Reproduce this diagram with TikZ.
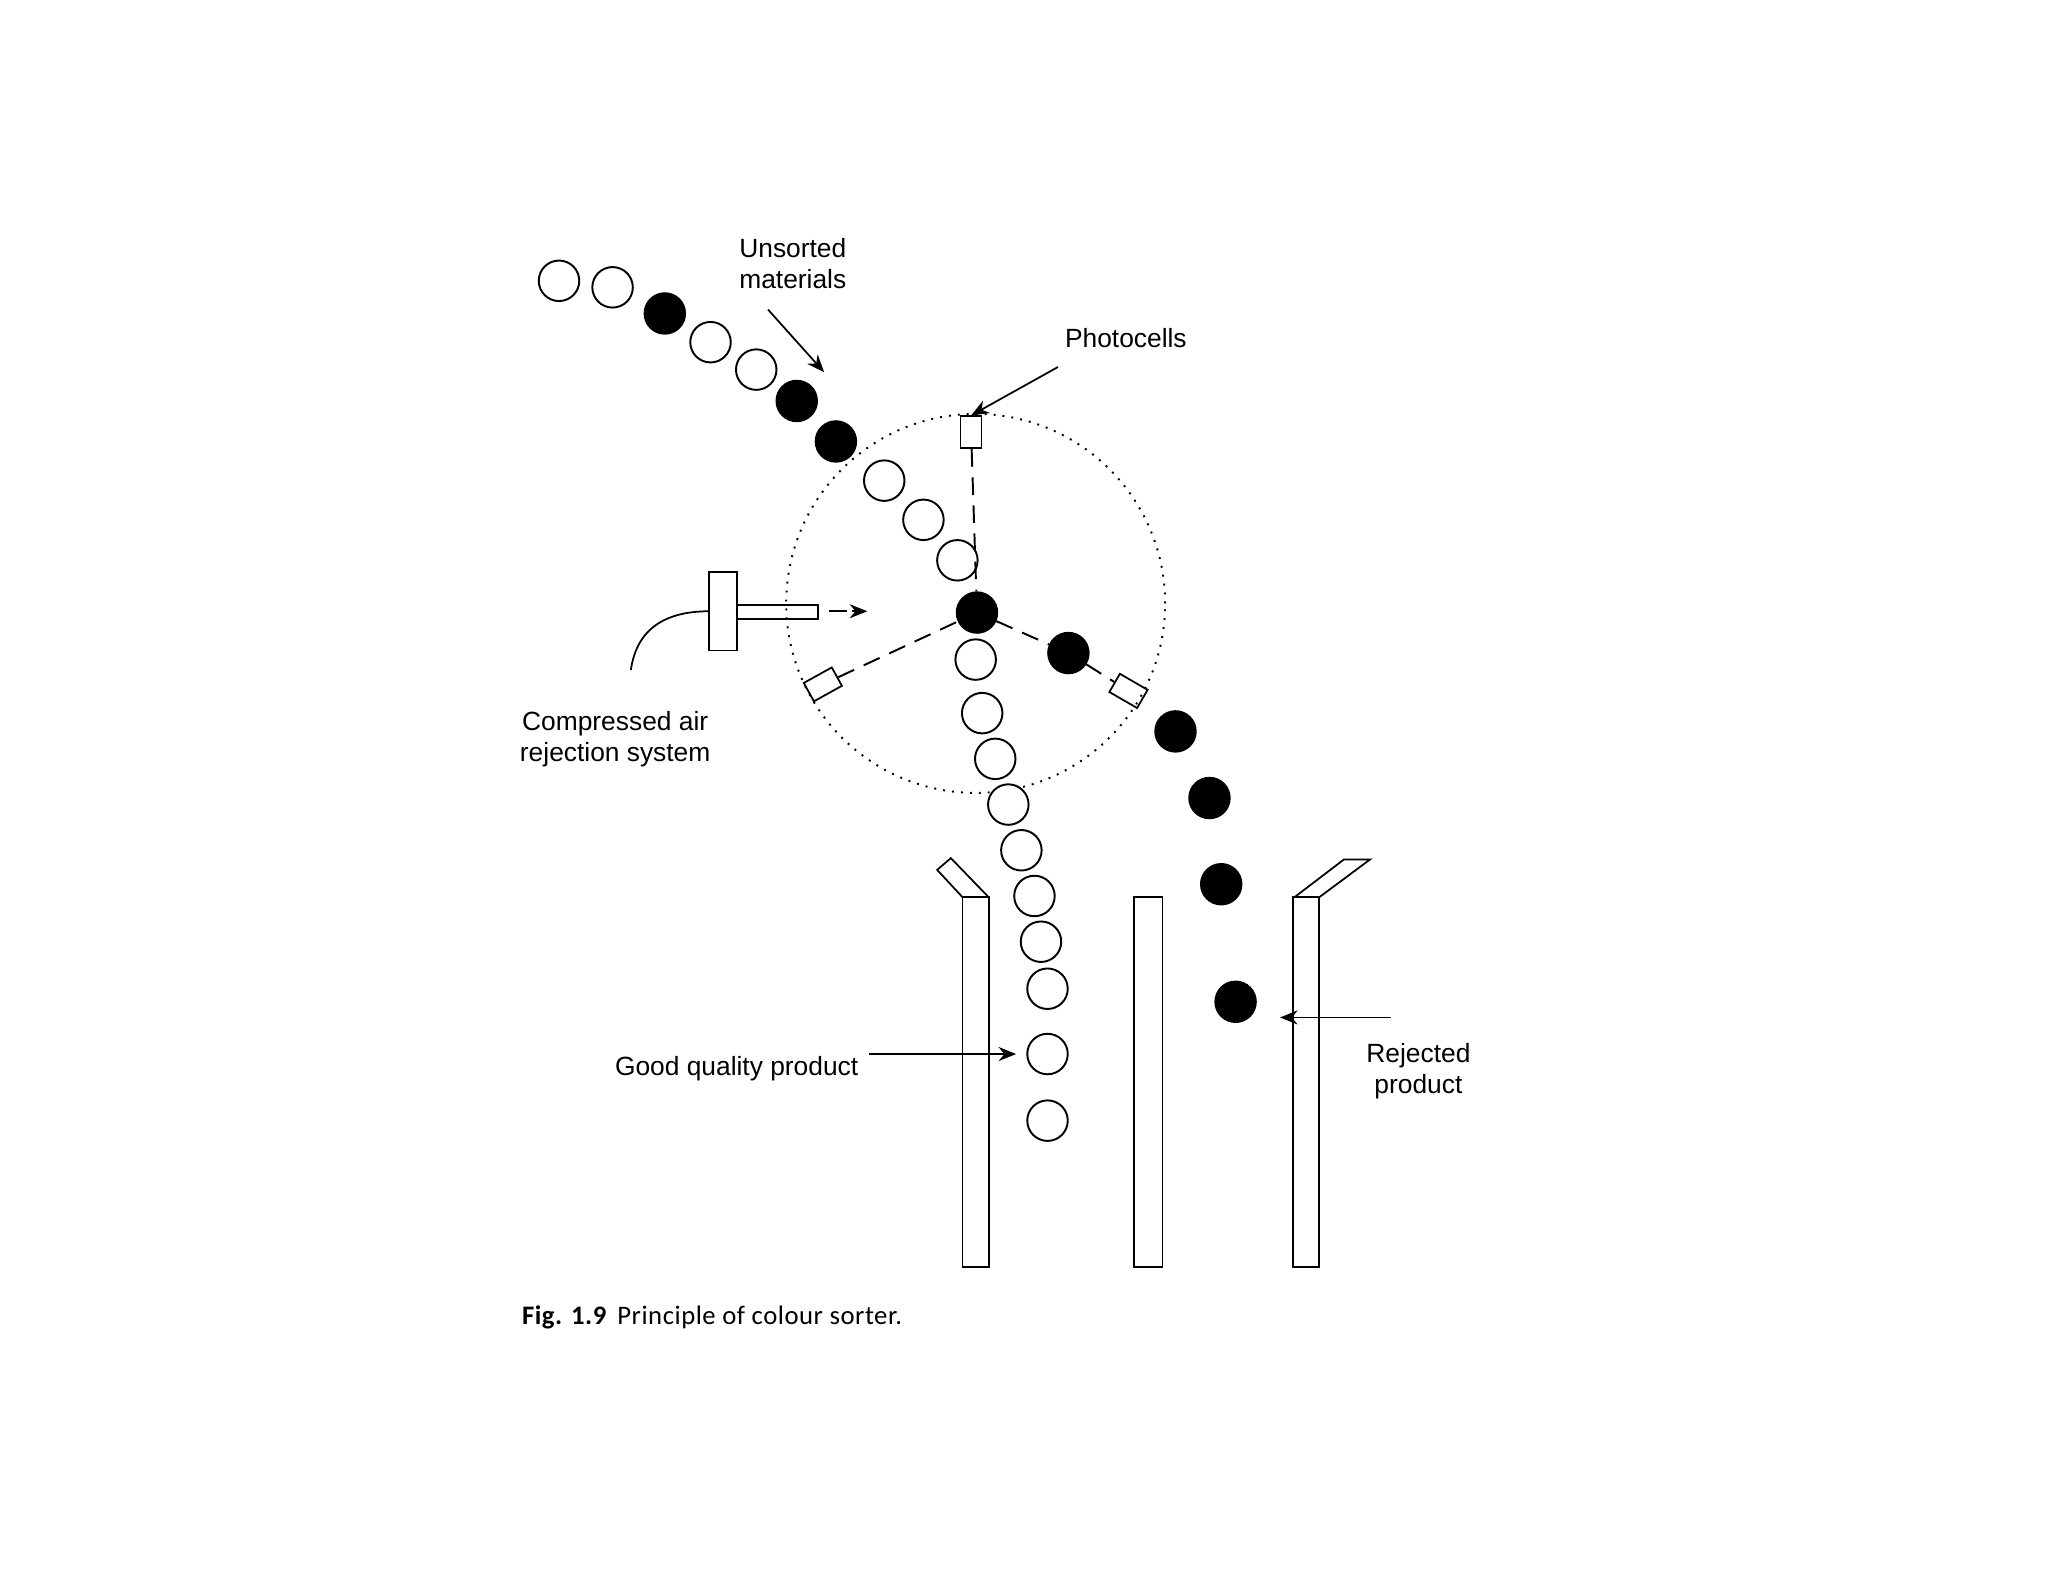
\documentclass[tikz,border=0pt]{standalone}
\usepackage{fontspec}
\setmainfont{Liberation Sans}
\newfontfamily\capfont[LetterSpace=2]{Carlito}
\usetikzlibrary{arrows.meta}
\tikzset{
  ball/.style={circle,draw,line width=0.55pt,minimum size=0.405cm,inner sep=0pt},
  goodball/.style={ball,fill=white},
  badball/.style={ball,fill=black},
  cell/.style={rectangle,draw,line width=0.5pt,minimum width=0.32cm,minimum height=0.21cm,inner sep=0pt},
  beam/.style={line width=0.55pt,dash pattern=on 5pt off 3pt},
  pointer/.style={line width=0.5pt,-{Stealth[length=5pt,width=4pt]}},
  label/.style={font=\fontsize{7.5}{8.9}\selectfont,align=center,inner sep=0pt}
}
\begin{document}
\begin{tikzpicture}[x=0.013061cm,y=-0.013061cm,line width=0.5pt]
  \useasboundingbox (0,0) rectangle (1568,1211.2);
  % inspection zone
  \node[circle,draw,dotted,line width=0.55pt,minimum size=3.79cm,inner sep=0pt] (zone) at (747,462) {};
  % photocells
  \node[cell,rotate=90] (cellT) at (743.5,331) {};
  \node[cell,rotate=29] (cellL) at (630,524) {};
  \node[cell,rotate=-30] (cellR) at (864,529) {};
  % feed
  \foreach \n/\x/\y in {1/428/215,2/469/220,3/544/262,4/579/283,5/677/368,6/707/398,7/733/429} {
      \node[goodball] (feed\n) at (\x,\y) {};
  }
  \foreach \n/\x/\y in {1/509/240,2/610/307,3/640/338} {
      \node[badball] (dark\n) at (\x,\y) {};
  }
  \node[badball] (eject) at (748,469) {};
  % good stream
  \foreach \n/\x/\y in {1/747/505,2/752/546,3/762/581,4/772/616,5/782/651,6/792/686,7/797/721,8/802/757,9/802/807,10/802/858} {
      \node[goodball] (good\n) at (\x,\y) {};
  }
  % rejected stream
  \foreach \n/\x/\y in {1/818/500,2/900/560,3/926/611,4/935/677,5/946/767} {
      \node[badball] (rej\n) at (\x,\y) {};
  }
  % light paths
  \draw[beam] (cellT) -- (eject);
  \draw[beam] (cellL) -- (eject);
  \draw[beam] (eject) -- (rej1);
  \draw[beam] (rej1) -- (cellR);
  % air nozzle
  \draw (543,438) rectangle (564,498);
  \draw (564,463) rectangle (626,474);
  \coordinate (hoseA) at (543,468);
  \coordinate (hoseB) at (483,513);
  \draw (hoseA) .. controls (505,468) and (487,485) .. (hoseB);
  \coordinate (blastA) at (635,468);
  \coordinate (blastB) at (664,468);
  \draw[pointer,dash pattern=on 5pt off 1.5pt] (blastA) -- (blastB);
  % walls
  \foreach \x/\w in {737/20,868/22,990/20} {
      \draw (\x,687) rectangle (\x+\w,970);
  }
  \draw (737,687) -- (717.5,666) -- (728,657) -- (757,687);
  \draw (991,687) -- (1029,658) -- (1049,658) -- (1010,687);
  % labels
  \node[label] (unsorted) at (607,202) {Unsorted\\materials};
  \node[label] (photo) at (862,259) {Photocells};
  \node[label] (air) at (471,566) {Compressed air\\rejection system};
  \node[label] (goodlab) at (564,818) {Good quality product};
  \node[label] (rejlab) at (1086,820) {Rejected\\product};
  \node[font=\capfont\fontsize{7.6}{9}\selectfont,anchor=west,inner sep=0pt] (caption) at (399,1009) {\textbf{Fig. 1.9}\hspace{3pt}Principle of colour sorter.};
  % pointers
  \coordinate (unsortedA) at (588,237);
  \coordinate (unsortedB) at (631,285);
  \coordinate (photoA) at (810,281);
  \coordinate (goodA) at (665,807);
  \coordinate (goodB) at (778,807);
  \coordinate (rejA) at (1065,779);
  \coordinate (rejB) at (980,779);
  \draw[pointer] (unsortedA) -- (unsortedB);
  \draw[pointer] (photoA) -- (cellT.east);
  \draw[pointer] (goodA) -- (goodB);
  \draw[pointer] (rejA) -- (rejB);
\end{tikzpicture}
\end{document}
